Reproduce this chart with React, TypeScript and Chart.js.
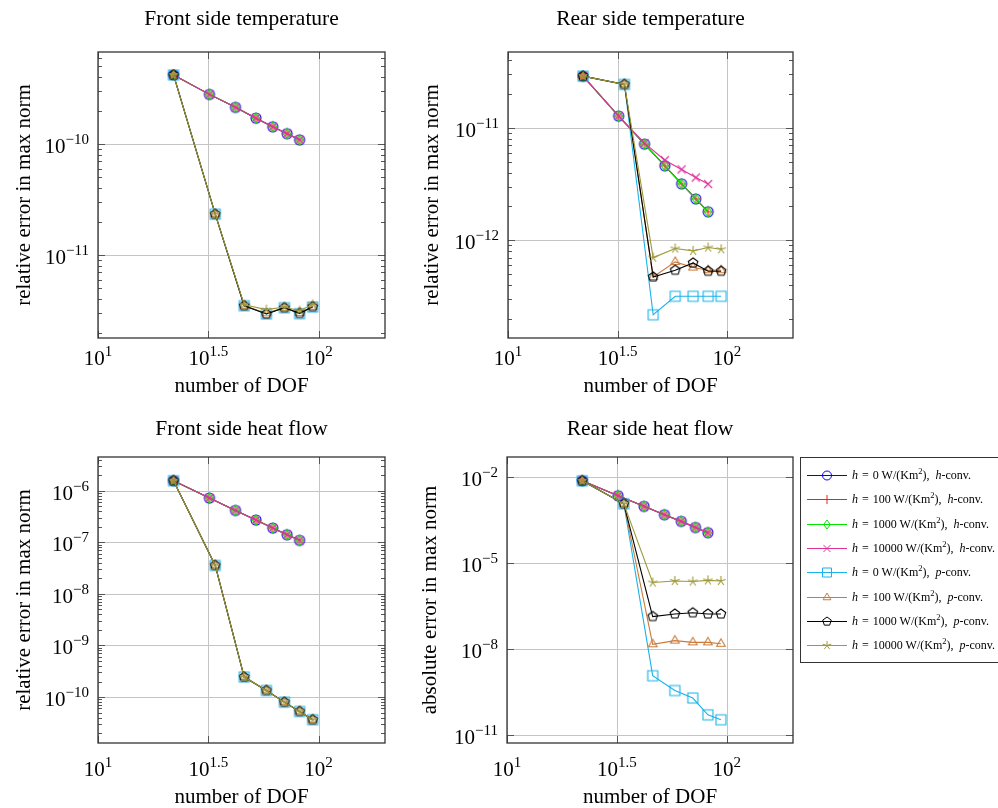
import React, { useEffect, useRef } from 'react';
import { Chart, registerables } from 'chart.js';

Chart.register(...registerables);

const FONT = "'Liberation Serif', 'Times New Roman', serif";

// ---------- data ----------
const dofH = [22, 32, 42, 52, 62, 72, 82];
const dofP = [22, 34, 46, 58, 70, 82, 94];
const xTickExps = [1, 1.5, 2];
const xTickLabels = ['1', '1.5', '2'];
const hValues = ['0', '100', '1000', '10000'];

// Front side temperature
const frontTempH0 = [4.19e-10, 2.8e-10, 2.14e-10, 1.71e-10, 1.43e-10, 1.24e-10, 1.09e-10];
const frontTempH100 = [4.19e-10, 2.8e-10, 2.14e-10, 1.71e-10, 1.43e-10, 1.24e-10, 1.09e-10];
const frontTempH1000 = [4.19e-10, 2.8e-10, 2.14e-10, 1.71e-10, 1.43e-10, 1.24e-10, 1.09e-10];
const frontTempH10000 = [4.19e-10, 2.8e-10, 2.14e-10, 1.71e-10, 1.43e-10, 1.24e-10, 1.09e-10];
const frontTempP0 = [4.19e-10, 2.33e-11, 3.49e-12, 2.94e-12, 3.35e-12, 2.96e-12, 3.4e-12];
const frontTempP100 = [4.19e-10, 2.33e-11, 3.49e-12, 2.98e-12, 3.35e-12, 3.0e-12, 3.42e-12];
const frontTempP1000 = [4.19e-10, 2.33e-11, 3.49e-12, 2.94e-12, 3.35e-12, 2.98e-12, 3.42e-12];
const frontTempP10000 = [4.19e-10, 2.33e-11, 3.55e-12, 3.22e-12, 3.4e-12, 3.15e-12, 3.58e-12];

// Rear side temperature
const rearTempH0 = [2.88e-11, 1.27e-11, 7.16e-12, 4.59e-12, 3.17e-12, 2.33e-12, 1.79e-12];
const rearTempH100 = [2.88e-11, 1.27e-11, 7.16e-12, 4.59e-12, 3.17e-12, 2.33e-12, 1.79e-12];
const rearTempH1000 = [2.88e-11, 1.27e-11, 7.16e-12, 4.59e-12, 3.17e-12, 2.33e-12, 1.79e-12];
const rearTempH10000 = [2.88e-11, 1.27e-11, 7.3e-12, 5.15e-12, 4.26e-12, 3.61e-12, 3.16e-12];
const rearTempP0 = [2.88e-11, 2.43e-11, 2.17e-13, 3.17e-13, 3.17e-13, 3.17e-13, 3.17e-13];
const rearTempP100 = [2.88e-11, 2.43e-11, 4.71e-13, 6.41e-13, 5.71e-13, 5.41e-13, 5.41e-13];
const rearTempP1000 = [2.88e-11, 2.43e-11, 4.71e-13, 5.41e-13, 6.28e-13, 5.3e-13, 5.3e-13];
const rearTempP10000 = [2.88e-11, 2.43e-11, 7.0e-13, 8.43e-13, 8.03e-13, 8.6e-13, 8.3e-13];

// Front side heat flow
const frontFlowH0 = [1.56e-6, 7.2e-7, 4.15e-7, 2.7e-7, 1.89e-7, 1.4e-7, 1.09e-7];
const frontFlowH100 = [1.56e-6, 7.2e-7, 4.15e-7, 2.7e-7, 1.89e-7, 1.4e-7, 1.09e-7];
const frontFlowH1000 = [1.56e-6, 7.2e-7, 4.15e-7, 2.7e-7, 1.89e-7, 1.4e-7, 1.09e-7];
const frontFlowH10000 = [1.56e-6, 7.2e-7, 4.15e-7, 2.7e-7, 1.89e-7, 1.4e-7, 1.09e-7];
const frontFlowP0 = [1.56e-6, 3.56e-8, 2.44e-10, 1.34e-10, 7.96e-11, 5.25e-11, 3.63e-11];
const frontFlowP100 = [1.56e-6, 3.56e-8, 2.44e-10, 1.34e-10, 7.96e-11, 5.25e-11, 3.63e-11];
const frontFlowP1000 = [1.56e-6, 3.56e-8, 2.44e-10, 1.34e-10, 7.96e-11, 5.25e-11, 3.63e-11];
const frontFlowP10000 = [1.56e-6, 3.56e-8, 2.44e-10, 1.34e-10, 7.96e-11, 5.25e-11, 3.63e-11];

// Rear side heat flow
const rearFlowH0 = [7.4e-3, 2.23e-3, 9.5e-4, 4.87e-4, 2.85e-4, 1.75e-4, 1.15e-4];
const rearFlowH100 = [7.4e-3, 2.23e-3, 9.5e-4, 4.87e-4, 2.85e-4, 1.75e-4, 1.15e-4];
const rearFlowH1000 = [7.4e-3, 2.23e-3, 9.5e-4, 4.87e-4, 2.85e-4, 1.75e-4, 1.15e-4];
const rearFlowH10000 = [7.4e-3, 2.23e-3, 9.5e-4, 4.87e-4, 2.85e-4, 1.75e-4, 1.15e-4];
const rearFlowP0 = [7.4e-3, 1.17e-3, 1.2e-9, 3.66e-10, 2.0e-10, 5.2e-11, 3.5e-11];
const rearFlowP100 = [7.4e-3, 1.17e-3, 1.49e-8, 2.0e-8, 1.74e-8, 1.74e-8, 1.55e-8];
const rearFlowP1000 = [7.4e-3, 1.17e-3, 1.38e-7, 1.7e-7, 1.87e-7, 1.7e-7, 1.7e-7];
const rearFlowP10000 = [7.4e-3, 1.17e-3, 2.11e-6, 2.4e-6, 2.3e-6, 2.5e-6, 2.4e-6];

// ---------- series styles ----------
type Kind = 'circle' | 'plus' | 'diamond' | 'x' | 'square' | 'triangle' | 'pentagon' | 'star';
const seriesStyles: { h: string; conv: string; color: string; kind: Kind }[] = [
  { h: hValues[0], conv: 'h', color: '#0000ff', kind: 'circle' },
  { h: hValues[1], conv: 'h', color: '#ff1a1a', kind: 'plus' },
  { h: hValues[2], conv: 'h', color: '#00e600', kind: 'diamond' },
  { h: hValues[3], conv: 'h', color: '#dd3399', kind: 'x' },
  { h: hValues[0], conv: 'p', color: '#19b2ea', kind: 'square' },
  { h: hValues[1], conv: 'p', color: '#c97b3b', kind: 'triangle' },
  { h: hValues[2], conv: 'p', color: '#000000', kind: 'pentagon' },
  { h: hValues[3], conv: 'p', color: '#9e9a3a', kind: 'star' },
];

type Panel = {
  title: string;
  ylabel: string;
  yLo: number;
  yHi: number;
  yMajors: number[];
  minor: boolean;
  series: number[][];
  left: number;
  top: number;
  padding: { left: number; top: number; right: number; bottom: number };
  titleY: number;
  ylabelX: number;
  xTickY: number;
  xlabelY: number;
};

const CW = 400;
const CH = 404;

const panels: Panel[] = [
  {
    title: 'Front side temperature',
    ylabel: 'relative error in max norm',
    yLo: -11.748, yHi: -9.171, yMajors: [-11, -10], minor: true,
    series: [frontTempH0, frontTempH100, frontTempH1000, frontTempH10000, frontTempP0, frontTempP100, frontTempP1000, frontTempP10000],
    left: 0, top: 0,
    padding: { left: 98, top: 52, right: 15, bottom: 66 },
    titleY: 25, ylabelX: 24, xTickY: 365, xlabelY: 392,
  },
  {
    title: 'Rear side temperature',
    ylabel: 'relative error in max norm',
    yLo: -12.87, yHi: -10.326, yMajors: [-12, -11], minor: true,
    series: [rearTempH0, rearTempH100, rearTempH1000, rearTempH10000, rearTempP0, rearTempP100, rearTempP1000, rearTempP10000],
    left: 400, top: 0,
    padding: { left: 108, top: 52, right: 7, bottom: 66 },
    titleY: 25, ylabelX: 32, xTickY: 365, xlabelY: 392,
  },
  {
    title: 'Front side heat flow',
    ylabel: 'relative error in max norm',
    yLo: -10.891, yHi: -5.347, yMajors: [-10, -9, -8, -7, -6], minor: true,
    series: [frontFlowH0, frontFlowH100, frontFlowH1000, frontFlowH10000, frontFlowP0, frontFlowP100, frontFlowP1000, frontFlowP10000],
    left: 0, top: 404,
    padding: { left: 98, top: 53, right: 15, bottom: 65 },
    titleY: 31, ylabelX: 24, xTickY: 372, xlabelY: 399,
  },
  {
    title: 'Rear side heat flow',
    ylabel: 'absolute error in max norm',
    yLo: -11.265, yHi: -1.303, yMajors: [-11, -8, -5, -2], minor: false,
    series: [rearFlowH0, rearFlowH100, rearFlowH1000, rearFlowH10000, rearFlowP0, rearFlowP100, rearFlowP1000, rearFlowP10000],
    left: 400, top: 404,
    padding: { left: 107, top: 53, right: 7, bottom: 65 },
    titleY: 31, ylabelX: 30, xTickY: 372, xlabelY: 399,
  },
];

// ---------- markers ----------
function markerPath(ctx: CanvasRenderingContext2D, kind: Kind, cx: number, cy: number, r: number) {
  ctx.beginPath();
  switch (kind) {
    case 'circle':
      ctx.arc(cx, cy, r, 0, Math.PI * 2);
      break;
    case 'plus':
      ctx.moveTo(cx - r, cy); ctx.lineTo(cx + r, cy);
      ctx.moveTo(cx, cy - r); ctx.lineTo(cx, cy + r);
      break;
    case 'diamond':
      ctx.moveTo(cx, cy - r); ctx.lineTo(cx + 0.75 * r, cy);
      ctx.lineTo(cx, cy + r); ctx.lineTo(cx - 0.75 * r, cy); ctx.closePath();
      break;
    case 'x': {
      const d = r * 0.8;
      ctx.moveTo(cx - d, cy - d); ctx.lineTo(cx + d, cy + d);
      ctx.moveTo(cx - d, cy + d); ctx.lineTo(cx + d, cy - d);
      break;
    }
    case 'square':
      ctx.rect(cx - r, cy - r, 2 * r, 2 * r);
      break;
    case 'triangle':
      for (let i = 0; i < 3; i++) {
        const a = -Math.PI / 2 + (i * 2 * Math.PI) / 3;
        const px = cx + r * Math.cos(a), py = cy + r * Math.sin(a);
        if (i === 0) ctx.moveTo(px, py); else ctx.lineTo(px, py);
      }
      ctx.closePath();
      break;
    case 'pentagon':
      for (let i = 0; i < 5; i++) {
        const a = -Math.PI / 2 + (i * 2 * Math.PI) / 5;
        const px = cx + r * Math.cos(a), py = cy + r * Math.sin(a);
        if (i === 0) ctx.moveTo(px, py); else ctx.lineTo(px, py);
      }
      ctx.closePath();
      break;
    case 'star':
      for (let i = 0; i < 5; i++) {
        const a = -Math.PI / 2 + (i * 2 * Math.PI) / 5;
        ctx.moveTo(cx, cy);
        ctx.lineTo(cx + r * Math.cos(a), cy + r * Math.sin(a));
      }
      break;
  }
  ctx.stroke();
}

function makeMarker(kind: Kind, color: string): HTMLCanvasElement {
  const size = 16;
  const c = document.createElement('canvas');
  c.width = size; c.height = size;
  const ctx = c.getContext('2d')!;
  ctx.strokeStyle = color;
  ctx.lineWidth = 1.1;
  markerPath(ctx, kind, size / 2, size / 2, 5);
  return c;
}

// ---------- drawing helpers ----------
function drawPow(ctx: CanvasRenderingContext2D, exp: string, x: number, baseY: number, align: 'right' | 'center') {
  const baseFont = `21px ${FONT}`;
  const expFont = `15px ${FONT}`;
  ctx.font = baseFont;
  const wb = ctx.measureText('10').width;
  ctx.font = expFont;
  const we = ctx.measureText(exp).width;
  const total = wb + we;
  const start = align === 'right' ? x - total : x - total / 2;
  ctx.textAlign = 'left';
  ctx.textBaseline = 'alphabetic';
  ctx.fillStyle = '#000';
  ctx.font = baseFont;
  ctx.fillText('10', start, baseY);
  ctx.font = expFont;
  ctx.fillText(exp, start + wb, baseY - 9);
}

function makeFramePlugin(p: Panel) {
  return {
    id: 'frame',
    beforeDatasetsDraw(chart: any) {
      const { ctx, chartArea: a, scales } = chart;
      const xs = scales.x, ys = scales.y;
      ctx.save();
      ctx.strokeStyle = '#c4c4c4';
      ctx.lineWidth = 1;
      ctx.beginPath();
      for (const e of p.yMajors) {
        const y = Math.round(ys.getPixelForValue(Math.pow(10, e))) + 0.5;
        ctx.moveTo(a.left, y); ctx.lineTo(a.right, y);
      }
      for (const e of xTickExps) {
        const x = Math.round(xs.getPixelForValue(Math.pow(10, e))) + 0.5;
        ctx.moveTo(x, a.top); ctx.lineTo(x, a.bottom);
      }
      ctx.stroke();
      ctx.restore();
    },
    afterDraw(chart: any) {
      const { ctx, chartArea: a, scales } = chart;
      const xs = scales.x, ys = scales.y;
      ctx.save();
      // ticks
      ctx.strokeStyle = '#555';
      ctx.lineWidth = 1;
      ctx.beginPath();
      for (const e of p.yMajors) {
        const y = Math.round(ys.getPixelForValue(Math.pow(10, e))) + 0.5;
        ctx.moveTo(a.left, y); ctx.lineTo(a.left + 7, y);
        ctx.moveTo(a.right, y); ctx.lineTo(a.right - 7, y);
      }
      if (p.minor) {
        for (let d = Math.floor(p.yLo); d <= Math.ceil(p.yHi); d++) {
          for (let k = 2; k <= 9; k++) {
            const e = d + Math.log10(k);
            if (e <= p.yLo || e >= p.yHi) continue;
            const y = Math.round(ys.getPixelForValue(Math.pow(10, e))) + 0.5;
            ctx.moveTo(a.left, y); ctx.lineTo(a.left + 4, y);
            ctx.moveTo(a.right, y); ctx.lineTo(a.right - 4, y);
          }
        }
      }
      for (const e of xTickExps) {
        const x = Math.round(xs.getPixelForValue(Math.pow(10, e))) + 0.5;
        ctx.moveTo(x, a.bottom); ctx.lineTo(x, a.bottom - 7);
        ctx.moveTo(x, a.top); ctx.lineTo(x, a.top + 7);
      }
      ctx.stroke();
      // box
      ctx.strokeStyle = '#333';
      ctx.lineWidth = 1.3;
      ctx.strokeRect(a.left, a.top, a.right - a.left, a.bottom - a.top);
      // y tick labels
      for (const e of p.yMajors) {
        const y = ys.getPixelForValue(Math.pow(10, e));
        drawPow(ctx, '\u2212' + String(Math.abs(e)), a.left - 9, y + 9, 'right');
      }
      // x tick labels
      xTickExps.forEach((e, i) => {
        const x = xs.getPixelForValue(Math.pow(10, e));
        drawPow(ctx, xTickLabels[i], x, p.xTickY, 'center');
      });
      // titles
      ctx.fillStyle = '#000';
      ctx.textAlign = 'center';
      ctx.textBaseline = 'alphabetic';
      ctx.font = `21.5px ${FONT}`;
      ctx.fillText(p.title, (a.left + a.right) / 2, p.titleY);
      ctx.font = `21px ${FONT}`;
      ctx.fillText('number of DOF', (a.left + a.right) / 2, p.xlabelY);
      ctx.save();
      ctx.translate(p.ylabelX, (a.top + a.bottom) / 2);
      ctx.rotate(-Math.PI / 2);
      ctx.textBaseline = 'middle';
      ctx.fillText(p.ylabel, 0, 0);
      ctx.restore();
      ctx.restore();
    },
  };
}

function PanelChart({ p }: { p: Panel }) {
  const ref = useRef<HTMLCanvasElement | null>(null);
  useEffect(() => {
    if (!ref.current) return;
    const datasets = p.series.map((vals, i) => {
      const st = seriesStyles[i];
      const xs = st.conv === 'h' ? dofH : dofP;
      return {
        label: `h = ${st.h} W/(Km2), ${st.conv}-conv.`,
        data: xs.map((x, j) => ({ x, y: vals[j] })),
        borderColor: st.color,
        backgroundColor: st.color,
        borderWidth: 1.1,
        pointStyle: makeMarker(st.kind, st.color),
        pointRadius: 5,
        pointHoverRadius: 5,
        fill: false,
        tension: 0,
        order: 7 - i,
      };
    });
    const chart = new Chart(ref.current, {
      type: 'line',
      data: { datasets } as any,
      options: {
        responsive: false,
        animation: false,
        events: [],
        layout: { padding: p.padding },
        plugins: { legend: { display: false }, tooltip: { enabled: false }, title: { display: false } },
        scales: {
          x: { type: 'logarithmic', min: 10, max: 200, display: false, bounds: 'data' },
          y: { type: 'logarithmic', min: Math.pow(10, p.yLo), max: Math.pow(10, p.yHi), display: false, bounds: 'data' },
        },
      } as any,
      plugins: [makeFramePlugin(p)],
    });
    return () => chart.destroy();
  }, [p]);
  return (
    <canvas
      ref={ref}
      width={CW}
      height={CH}
      style={{ position: 'absolute', left: p.left, top: p.top, width: CW, height: CH }}
    />
  );
}

function LegendMarker({ kind, color }: { kind: Kind; color: string }) {
  const ref = useRef<HTMLCanvasElement | null>(null);
  useEffect(() => {
    const c = ref.current;
    if (!c) return;
    const ctx = c.getContext('2d')!;
    ctx.clearRect(0, 0, c.width, c.height);
    ctx.strokeStyle = color;
    ctx.lineWidth = 1.2;
    ctx.beginPath();
    ctx.moveTo(6, 10.5); ctx.lineTo(46, 10.5);
    ctx.stroke();
    ctx.lineWidth = 1;
    markerPath(ctx, kind, 26, 10.5, 4.5);
  }, [kind, color]);
  return <canvas ref={ref} width={51} height={21} style={{ display: 'block' }} />;
}

function Legend() {
  return (
    <div
      style={{
        position: 'absolute', left: 800, top: 457, width: 210, height: 206,
        border: '1.3px solid #333', boxSizing: 'border-box', background: '#fff',
      }}
    >
      {seriesStyles.map((s, i) => (
        <div
          key={i}
          style={{ position: 'absolute', left: 0, top: 18 + i * 24.3 - 11, height: 21, display: 'flex', alignItems: 'center' }}
        >
          <LegendMarker kind={s.kind} color={s.color} />
          <span style={{ font: `12px ${FONT}`, whiteSpace: 'nowrap', lineHeight: '21px' }}>
            <i>h</i>{'\u2004'}={'\u2004'}{s.h} W/(Km<sup style={{ fontSize: 8.5, lineHeight: 0 }}>2</sup>),{'\u2002'}<i>{s.conv}</i>-conv.
          </span>
        </div>
      ))}
    </div>
  );
}

export default function App() {
  return (
    <div style={{ position: 'absolute', left: 0, top: 0, width: 998, height: 808, overflow: 'hidden', background: '#fff' }}>
      {panels.map((p, i) => (
        <PanelChart key={i} p={p} />
      ))}
      <Legend />
    </div>
  );
}
